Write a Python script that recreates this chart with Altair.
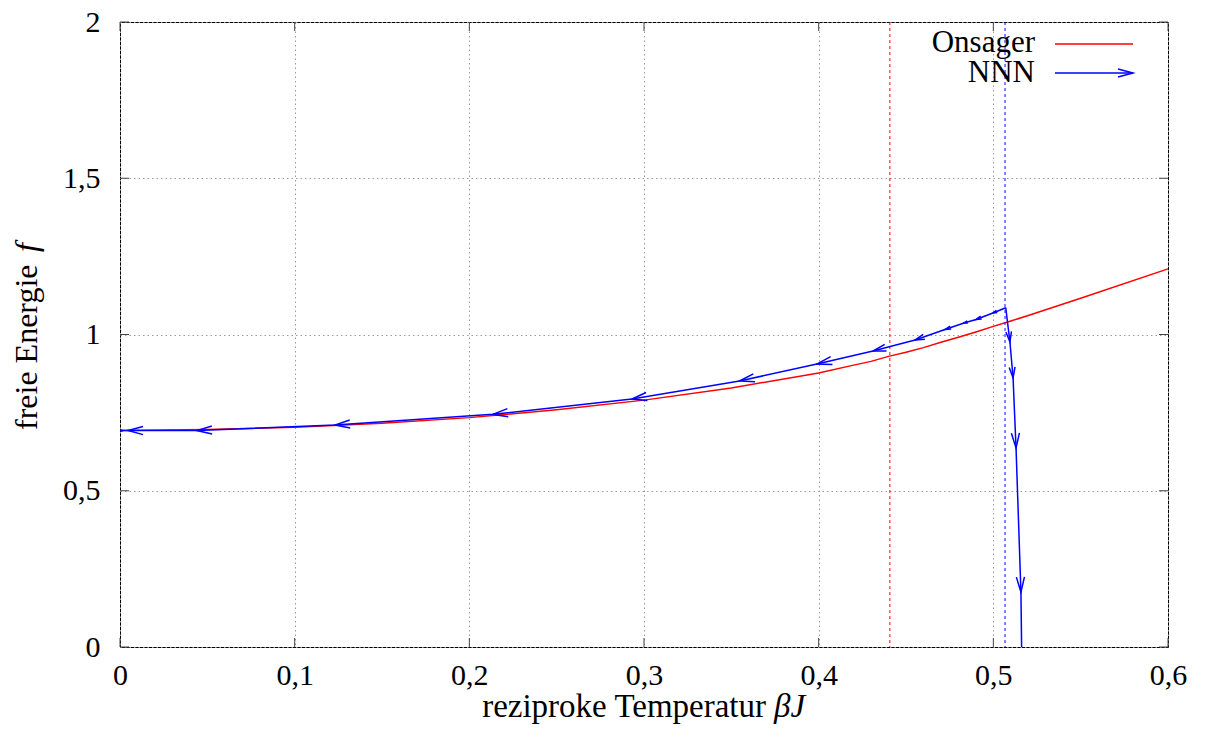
import math
import altair as alt
import pandas as pd

# ---------------- data ----------------
onsager_k = [0.0, 0.05, 0.1, 0.15, 0.2, 0.25, 0.3, 0.35, 0.4, 0.42, 0.43, 0.44, 0.45,
             0.46, 0.47, 0.48, 0.49, 0.5, 0.51, 0.52, 0.55, 0.6]
onsager_f = [0.693, 0.696, 0.703, 0.716, 0.734, 0.759, 0.790, 0.829, 0.877, 0.902, 0.914, 0.930, 0.943,
             0.958, 0.975, 0.991, 1.008, 1.026, 1.043, 1.061, 1.116, 1.210]

# NNN renormalisation flow: from the fixed point towards K=0 ...
nnn_left_k = [0.5071, 0.4998, 0.4901, 0.4832, 0.4723, 0.4552, 0.4311, 0.3990, 0.3547,
              0.2931, 0.2135, 0.1231, 0.0441, 0.0046, 0.0002]
nnn_left_f = [1.0858, 1.0688, 1.0480, 1.0368, 1.0160, 0.9824, 0.9472, 0.9056, 0.8512,
              0.7936, 0.7446, 0.7104, 0.6925, 0.6925, 0.6925]
# ... and from the fixed point downwards
nnn_down_k = [0.5071, 0.5095, 0.5113, 0.5130, 0.5158, 0.5175]
nnn_down_f = [1.0858, 0.9760, 0.8608, 0.6368, 0.1760, -0.6000]

k_crit = [0.4407]   # Onsager critical coupling (red dotted)
k_star = [0.5067]   # NNN fixed point (blue dotted)

x_ticks = [0, 0.1, 0.2, 0.3, 0.4, 0.5, 0.6]
y_ticks = [0, 0.5, 1, 1.5, 2]
series_names = ["Onsager", "NNN"]
x_title = ["reziproke Temperatur", "βJ"]
y_title = ["freie Energie", "f"]

# ---------------- layout ----------------
W, H = 1048, 625
XMAX, YMAX = 0.6, 2.0
FONT = "Liberation Serif"
FS = 30
TFS = 32
RED = "#ff0000"
BLUE = "#0000ff"
ARROW = "M-1,-0.27L0,0L-1,0.27"

xs = alt.Scale(domain=[0, XMAX], nice=False, zero=False)
ys = alt.Scale(domain=[0, YMAX], nice=False, zero=False)

# line table
rows = []
for name, ks, fs in [("left", nnn_left_k, nnn_left_f), ("down", nnn_down_k, nnn_down_f)]:
    for i, (k, f) in enumerate(zip(ks, fs)):
        rows.append({"branch": name, "i": i, "k": k, "f": f})
nnn_df = pd.DataFrame(rows)

# arrowheads at the end of every vector
arows = []
for name, ks, fs in [("left", nnn_left_k, nnn_left_f), ("down", nnn_down_k, nnn_down_f)]:
    for i in range(1, len(ks)):
        dxp = (ks[i] - ks[i - 1]) * W / XMAX
        dyp = -(fs[i] - fs[i - 1]) * H / YMAX
        ln = math.hypot(dxp, dyp)
        L = min(15.0, 0.3 * ln)
        ang = math.degrees(math.atan2(dyp, dxp)) % 360
        arows.append({"k": ks[i], "f": fs[i], "angle": ang, "size": 4 * L * L})
arrow_df = pd.DataFrame(arows)

ons_df = pd.DataFrame({"k": onsager_k, "f": onsager_f})

LBL = "replace(format(datum.value, '~g'), '.', ',')"
base_x = alt.X("k:Q", scale=xs, title=None, axis=alt.Axis(
    values=x_ticks, labelExpr=LBL, labelFlush=False, labelPadding=13))
base_y = alt.Y("f:Q", scale=ys, title=None, axis=alt.Axis(
    values=y_ticks, labelExpr=LBL, labelFlush=False, labelPadding=20))

onsager = alt.Chart(ons_df).mark_line(color=RED, strokeWidth=1.5).encode(
    x=base_x, y=base_y)

vlines = alt.Chart(pd.DataFrame({"k": k_crit + k_star, "s": ["c", "s"]})).mark_rule(
    strokeWidth=1.5, strokeDash=[3, 3], opacity=0.65).encode(
    x=alt.X("k:Q", scale=xs),
    color=alt.Color("s:N", scale=alt.Scale(domain=["c", "s"], range=[RED, BLUE]), legend=None))

nnn = alt.Chart(nnn_df).mark_line(color=BLUE, strokeWidth=1.5, clip=True).encode(
    x=alt.X("k:Q", scale=xs), y=alt.Y("f:Q", scale=ys), detail="branch:N", order="i:Q")

heads = alt.Chart(arrow_df).mark_point(
    shape=ARROW, filled=False, color=BLUE, strokeWidth=1.5, opacity=1, clip=True).encode(
    x=alt.X("k:Q", scale=xs), y=alt.Y("f:Q", scale=ys),
    angle=alt.Angle("angle:Q", scale=None), size=alt.Size("size:Q", scale=None))

# inward ticks on all four sides
xt = pd.DataFrame({"k": x_ticks})
yt = pd.DataFrame({"f": y_ticks})
tick_style = dict(color="#444444", strokeWidth=1)
ticks = alt.layer(
    alt.Chart(xt).mark_rule(**tick_style).encode(x=alt.X("k:Q", scale=xs), y=alt.value(H), y2=alt.value(H - 9)),
    alt.Chart(xt).mark_rule(**tick_style).encode(x=alt.X("k:Q", scale=xs), y=alt.value(0), y2=alt.value(9)),
    alt.Chart(yt).mark_rule(**tick_style).encode(y=alt.Y("f:Q", scale=ys), x=alt.value(0), x2=alt.value(9)),
    alt.Chart(yt).mark_rule(**tick_style).encode(y=alt.Y("f:Q", scale=ys), x=alt.value(W), x2=alt.value(W - 9)),
)

# axis titles with italic math parts
def txt(s, size, **kw):
    return alt.Chart(pd.DataFrame({"t": [s]})).mark_text(
        font=FONT, fontSize=size, color="black", baseline="alphabetic", **kw).encode(text="t:N")

titles = alt.layer(
    txt(x_title[0], TFS + 1, align="right").encode(x=alt.value(646), y=alt.value(695)),
    txt(x_title[1], TFS + 1, align="left", fontStyle="italic").encode(x=alt.value(654), y=alt.value(695)),
    txt(y_title[0], TFS, align="left", angle=270).encode(x=alt.value(-83), y=alt.value(408)),
    txt(y_title[1], TFS, align="left", angle=270, fontStyle="italic").encode(x=alt.value(-83), y=alt.value(230)),
)

# gnuplot style key (top right, inside)
leg_df = pd.DataFrame({"name": series_names})
LFS = 31
legend = alt.layer(
    alt.Chart(leg_df).transform_filter(alt.datum.name == "Onsager").mark_text(
        align="right", baseline="alphabetic", font=FONT, fontSize=LFS, color="black").encode(
        text="name:N", x=alt.value(915), y=alt.value(30)),
    alt.Chart(leg_df).transform_filter(alt.datum.name == "NNN").mark_text(
        align="right", baseline="alphabetic", font=FONT, fontSize=LFS, color="black").encode(
        text="name:N", x=alt.value(915), y=alt.value(60)),
    alt.Chart(leg_df).transform_filter(alt.datum.name == "Onsager").mark_rule(
        color=RED, strokeWidth=1.5).encode(x=alt.value(935), x2=alt.value(1013), y=alt.value(22)),
    alt.Chart(leg_df).transform_filter(alt.datum.name == "NNN").mark_rule(
        color=BLUE, strokeWidth=1.5).encode(x=alt.value(935), x2=alt.value(1013), y=alt.value(51)),
    alt.Chart(leg_df).transform_filter(alt.datum.name == "NNN").mark_point(
        shape=ARROW, filled=False, color=BLUE, strokeWidth=1.5, opacity=1).encode(
        x=alt.value(1013), y=alt.value(51), angle=alt.value(0), size=alt.value(900)),
)

chart = alt.layer(onsager, vlines, nnn, heads, ticks, titles, legend).properties(
    width=W, height=H,
    autosize=alt.AutoSizeParams(type="none"),
    padding={"left": 112, "top": 14, "right": 30, "bottom": 88},
    background="white",
).configure_view(stroke="black", strokeWidth=1).configure_axis(
    grid=True, gridColor="#9a9a9a", gridDash=[1.5, 3], gridWidth=1,
    domain=False, ticks=False,
    labelFont=FONT, labelFontSize=FS, labelColor="black",
)

chart.save("out.html", embed_options={"renderer": "svg", "actions": False})
